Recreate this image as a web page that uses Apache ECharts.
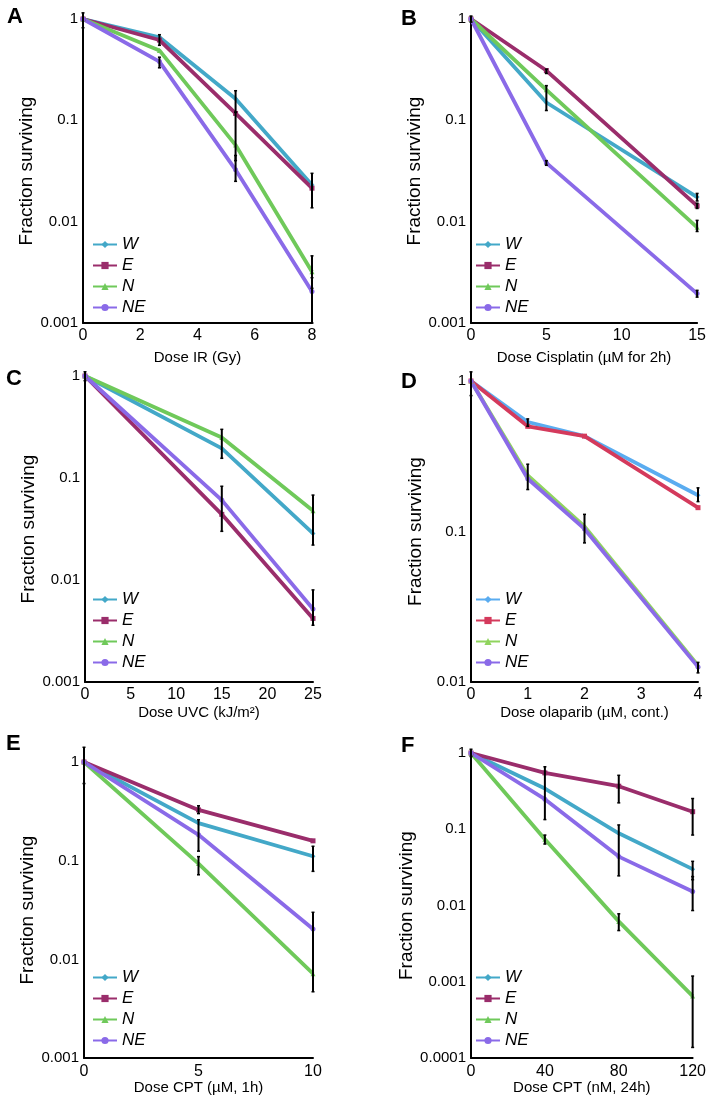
<!DOCTYPE html>
<html>
<head>
<meta charset="utf-8">
<script src="https://cdn.jsdelivr.net/npm/echarts@6/dist/echarts.min.js"></script>
<style>
html,body{margin:0;padding:0;background:#fff;}
#chart{width:709px;height:1096px;}
</style>
</head>
<body>
<div id="chart"></div>
<script>
// ---------- DATA ----------
const seriesNames = ['W', 'E', 'N', 'NE'];

const A_x = [0, 2.67, 5.33, 8];
const A_W = [1, 0.66, 0.163, 0.023];
const A_E = [1, 0.62, 0.117, 0.0214];
const A_N = [1, 0.49, 0.057, 0.0032];
const A_NE = [1, 0.38, 0.0325, 0.00205];
const A_err = [[0, 0.82, 1.15], [2.67, 0.55, 0.70], [2.67, 0.33, 0.42], [5.33, 0.12, 0.196], [5.33, 0.04, 0.12], [5.33, 0.025, 0.045], [8, 0.0137, 0.030], [8, 0.0022, 0.0046], [8, 0.001, 0.0028]];

const B_x = [0, 5, 15];
const B_W = [1, 0.15, 0.0175];
const B_E = [1, 0.31, 0.0143];
const B_N = [1, 0.2, 0.0088];
const B_NE = [1, 0.038, 0.00195];
const B_err = [[0, 0.93, 1.07], [5, 0.125, 0.22], [5, 0.29, 0.32], [5, 0.036, 0.040], [15, 0.016, 0.019], [15, 0.0135, 0.0152], [15, 0.008, 0.0103], [15, 0.0018, 0.0021]];

const C_x = [0, 15, 25];
const C_W = [1, 0.195, 0.0286];
const C_E = [1, 0.044, 0.0042];
const C_N = [1, 0.25, 0.0477];
const C_NE = [1, 0.0607, 0.0052];
const C_err = [[0, 0.9, 1.1], [15, 0.156, 0.30], [15, 0.030, 0.083], [25, 0.022, 0.068], [25, 0.0036, 0.008]];

const D_x = [0, 1, 2, 4];
const D_W = [1, 0.534, 0.43, 0.174];
const D_E = [1, 0.5, 0.43, 0.144];
const D_N = [1, 0.236, 0.108, 0.0129];
const D_NE = [1, 0.224, 0.104, 0.0126];
const D_err = [[0, 0.80, 1.15], [1, 0.5, 0.56], [1, 0.19, 0.28], [2, 0.084, 0.13], [4, 0.158, 0.195], [4, 0.0115, 0.0135]];

const E_x = [0, 5, 10];
const E_W = [1, 0.24, 0.111];
const E_E = [1, 0.327, 0.159];
const E_N = [1, 0.0935, 0.00716];
const E_NE = [1, 0.183, 0.0203];
const E_err = [[0, 0.605, 1.41], [5, 0.30, 0.36], [5, 0.125, 0.26], [5, 0.072, 0.11], [10, 0.078, 0.14], [10, 0.0047, 0.03]];

const F_x = [0, 40, 80, 120];
const F_W = [1, 0.342, 0.0885, 0.030];
const F_E = [1, 0.548, 0.367, 0.17];
const F_N = [1, 0.0738, 0.0062, 0.00065];
const F_NE = [1, 0.248, 0.0438, 0.0153];
const F_err = [[0, 0.9, 1.12], [40, 0.134, 0.66], [40, 0.064, 0.084], [80, 0.222, 0.51], [80, 0.0245, 0.114], [80, 0.0047, 0.0078], [120, 0.084, 0.253], [120, 0.0218, 0.038], [120, 0.0086, 0.024], [120, 0.000138, 0.00119]];

const xNames = ['Dose IR (Gy)', 'Dose Cisplatin (µM for 2h)', 'Dose UVC (kJ/m²)', 'Dose olaparib (µM, cont.)', 'Dose CPT (µM, 1h)', 'Dose CPT (nM, 24h)'];
const xMax = [8, 15, 25, 4, 10, 120];
const xInterval = [2, 5, 5, 1, 5, 40];
const yMin = [0.001, 0.001, 0.001, 0.01, 0.001, 0.0001];
const panelLetters = ['A', 'B', 'C', 'D', 'E', 'F'];
// ---------- STYLE / LAYOUT ----------
const colorsStd = ['#43a8c8', '#9a2d6b', '#6fc95a', '#8a6ae8'];
const colorsD = ['#5aacf0', '#d43a5c', '#90d45e', '#8a6ae8'];
const symbols = ['diamond', 'rect', 'triangle', 'circle'];

const panels = [
  {x: A_x, ys: [A_W, A_E, A_N, A_NE], err: A_err, grid: {left: 83, top: 19, width: 229, height: 304}, nameGap: 27, legend: {left: 92, top: 236}, letter: {left: 2, top: 1}, colors: colorsStd},
  {x: B_x, ys: [B_W, B_E, B_N, B_NE], err: B_err, grid: {left: 471, top: 19, width: 229, height: 304}, nameGap: 27, legend: {left: 475, top: 236}, letter: {left: 396, top: 3}, colors: colorsStd},
  {x: C_x, ys: [C_W, C_E, C_N, C_NE], err: C_err, grid: {left: 85, top: 376, width: 228, height: 306}, nameGap: 23, legend: {left: 92, top: 591}, letter: {left: 1, top: 363}, colors: colorsStd},
  {x: D_x, ys: [D_W, D_E, D_N, D_NE], err: D_err, grid: {left: 471, top: 381, width: 227, height: 301}, nameGap: 23, legend: {left: 475, top: 591}, letter: {left: 396, top: 366}, colors: colorsD},
  {x: E_x, ys: [E_W, E_E, E_N, E_NE], err: E_err, grid: {left: 84, top: 762, width: 229, height: 298}, nameGap: 20, legend: {left: 92, top: 969}, letter: {left: 1, top: 728}, colors: colorsStd},
  {x: F_x, ys: [F_W, F_E, F_N, F_NE], err: F_err, grid: {left: 471, top: 753, width: 230, height: 306}, nameGap: 15, legend: {left: 475, top: 969}, letter: {left: 396, top: 730}, colors: colorsStd}
];

const FONT = 'Liberation Sans, Arial, Helvetica, sans-serif';

const option = {
  backgroundColor: '#fff',
  animation: false,
  title: [], grid: [], xAxis: [], yAxis: [], legend: [], series: []
};

panels.forEach((p, i) => {
  option.title.push({text: panelLetters[i], left: p.letter.left, top: p.letter.top,
    textStyle: {fontFamily: FONT, fontWeight: 'bold', fontSize: 22, color: '#000'}});
  option.grid.push(Object.assign({containLabel: false}, p.grid));
  option.xAxis.push({
    type: 'value', gridIndex: i, min: 0, max: xMax[i], interval: xInterval[i],
    name: xNames[i], nameLocation: 'middle', nameGap: p.nameGap,
    nameTextStyle: {fontFamily: FONT, fontSize: 15, color: '#000'},
    axisLine: {show: true, lineStyle: {color: '#000', width: 2}},
    axisTick: {show: false}, splitLine: {show: false},
    axisLabel: {fontFamily: FONT, fontSize: 16, color: '#000', margin: 5}
  });
  option.yAxis.push({
    type: 'log', logBase: 10, gridIndex: i, min: yMin[i], max: 1,
    name: 'Fraction surviving', nameLocation: 'middle', nameGap: 46,
    nameTextStyle: {fontFamily: FONT, fontSize: 19, color: '#000'},
    axisLine: {show: true, lineStyle: {color: '#000', width: 2}},
    axisTick: {show: false}, splitLine: {show: false}, minorTick: {show: false},
    axisLabel: {fontFamily: FONT, fontSize: 15, color: '#000', margin: 5,
      formatter: v => String(+Number(v).toPrecision(1))}
  });
  const legendNames = [];
  seriesNames.forEach((s, k) => {
    const nm = panelLetters[i] + ':' + s;
    legendNames.push(nm);
    option.series.push({
      type: 'line', name: nm, xAxisIndex: i, yAxisIndex: i,
      data: p.x.map((xv, j) => [xv, p.ys[k][j]]),
      symbol: symbols[k], symbolSize: 5, showSymbol: true,
      color: p.colors[k],
      lineStyle: {width: 3.8, color: p.colors[k]},
      itemStyle: {color: p.colors[k]},
      z: 2
    });
  });
  option.legend.push({
    data: legendNames, orient: 'vertical', left: p.legend.left, top: p.legend.top,
    itemWidth: 24, itemHeight: 9, itemGap: 4, padding: 0, selectedMode: false,
    formatter: n => n.split(':')[1],
    textStyle: {fontFamily: FONT, fontSize: 17, fontStyle: 'italic', color: '#000', padding: [0, 0, 0, 0]}
  });
  option.series.push({
    type: 'custom', name: 'err' + i, xAxisIndex: i, yAxisIndex: i,
    data: p.err, encode: {x: 0, y: [1, 2]}, z: 5, silent: true,
    renderItem: (params, api) => {
      const xv = api.value(0);
      const a = api.coord([xv, api.value(2)]);
      const b = api.coord([xv, api.value(1)]);
      const c = 1.5;
      return {type: 'group', children: [
        {type: 'line', shape: {x1: a[0], y1: a[1], x2: b[0], y2: b[1]}, style: {stroke: '#000', lineWidth: 2}},
        {type: 'line', shape: {x1: a[0] - c, y1: a[1], x2: a[0] + c, y2: a[1]}, style: {stroke: '#000', lineWidth: 1.5}},
        {type: 'line', shape: {x1: b[0] - c, y1: b[1], x2: b[0] + c, y2: b[1]}, style: {stroke: '#000', lineWidth: 1.5}}
      ]};
    }
  });
});

const chart = echarts.init(document.getElementById('chart'), null, {renderer: 'canvas'});
chart.setOption(option);
</script>
</body>
</html>
